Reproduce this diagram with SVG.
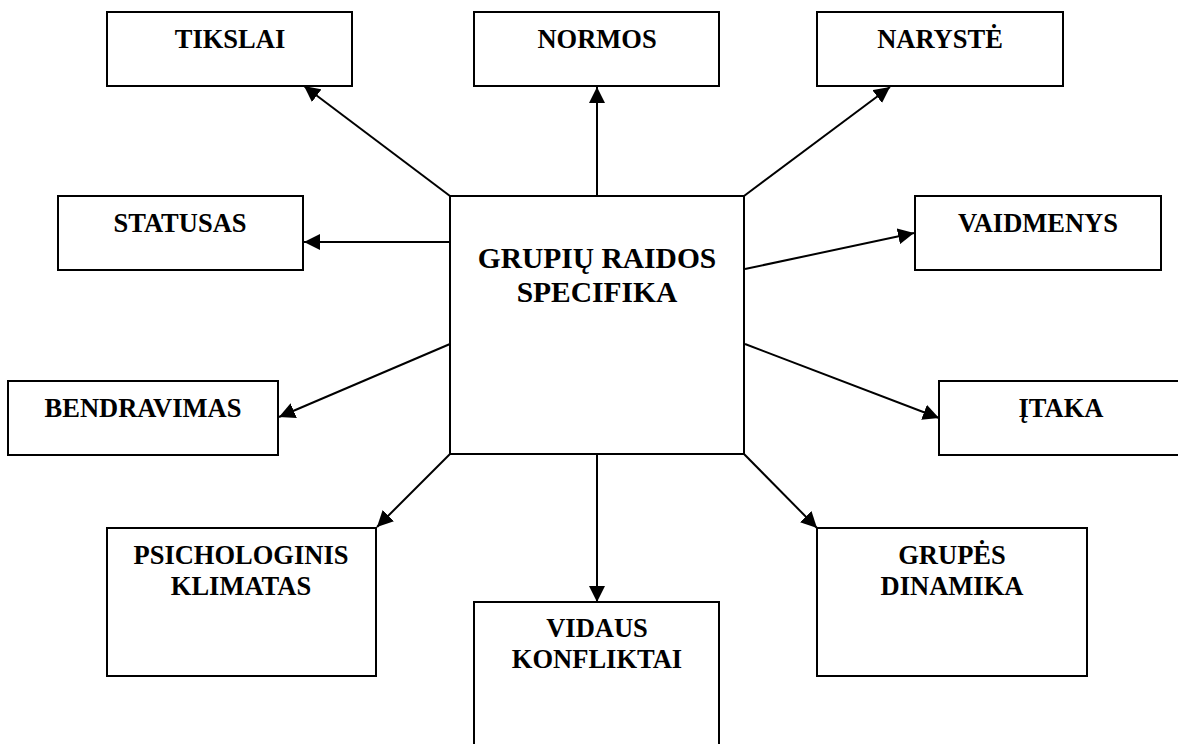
<svg xmlns="http://www.w3.org/2000/svg" width="1178" height="744" viewBox="0 0 1178 744">
<defs>
<marker id="ah" markerUnits="userSpaceOnUse" markerWidth="17" markerHeight="16" refX="16" refY="8" orient="auto">
<path d="M0,0 L16,8 L0,16 z" fill="#000"/>
</marker>
<style>
.box{fill:#fff;stroke:#000;stroke-width:2}
.t{font-family:"Liberation Serif","Times New Roman",serif;font-weight:bold;font-size:26.5px;text-anchor:middle;fill:#000}
.tc{font-family:"Liberation Serif","Times New Roman",serif;font-weight:bold;font-size:29.5px;text-anchor:middle;fill:#000}
.c{stroke:#000;stroke-width:2;fill:none;marker-end:url(#ah)}
</style>
</defs>
<rect width="1178" height="744" fill="#fff"/>
<g id="connectors">
<line class="c" x1="450" y1="196" x2="304" y2="86"/>
<line class="c" x1="597" y1="196" x2="597" y2="87"/>
<line class="c" x1="744" y1="196" x2="890" y2="87"/>
<line class="c" x1="450" y1="242" x2="304" y2="242"/>
<line class="c" x1="745" y1="269" x2="914" y2="233"/>
<line class="c" x1="450" y1="344" x2="279" y2="417"/>
<line class="c" x1="745" y1="344" x2="939" y2="418"/>
<line class="c" x1="450" y1="454" x2="377" y2="527"/>
<line class="c" x1="597" y1="454" x2="597" y2="602"/>
<line class="c" x1="744" y1="454" x2="817" y2="528"/>
</g>
<g id="center">
<rect class="box" x="450" y="196" width="294" height="258"/>
<text class="tc" x="597" y="268">GRUPIŲ RAIDOS</text>
<text class="tc" x="597" y="302">SPECIFIKA</text>
</g>
<g id="tikslai">
<rect class="box" x="107" y="12" width="245" height="74"/>
<text class="t" x="230" y="48">TIKSLAI</text>
</g>
<g id="normos">
<rect class="box" x="474" y="12" width="245" height="74"/>
<text class="t" x="597" y="48">NORMOS</text>
</g>
<g id="naryste">
<rect class="box" x="817" y="12" width="246" height="74"/>
<text class="t" x="940" y="48">NARYSTĖ</text>
</g>
<g id="statusas">
<rect class="box" x="58" y="196" width="245" height="74"/>
<text class="t" x="180" y="232">STATUSAS</text>
</g>
<g id="vaidmenys">
<rect class="box" x="915" y="196" width="246" height="74"/>
<text class="t" x="1038" y="232">VAIDMENYS</text>
</g>
<g id="bendravimas">
<rect class="box" x="8" y="381" width="270" height="74"/>
<text class="t" x="143" y="417">BENDRAVIMAS</text>
</g>
<g id="itaka">
<rect class="box" x="939" y="381" width="260" height="74"/>
<text class="t" x="1061" y="417">ĮTAKA</text>
</g>
<g id="psichologinis">
<rect class="box" x="107" y="528" width="269" height="148"/>
<text class="t" x="241" y="564">PSICHOLOGINIS</text>
<text class="t" x="241" y="595">KLIMATAS</text>
</g>
<g id="vidaus">
<rect class="box" x="474" y="602" width="245" height="160"/>
<text class="t" x="597" y="637">VIDAUS</text>
<text class="t" x="597" y="668">KONFLIKTAI</text>
</g>
<g id="grupes">
<rect class="box" x="817" y="528" width="270" height="148"/>
<text class="t" x="952" y="564">GRUPĖS</text>
<text class="t" x="952" y="595">DINAMIKA</text>
</g>
</svg>
